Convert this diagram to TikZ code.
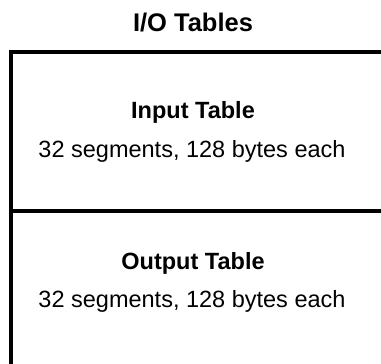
\documentclass[tikz,border=0pt]{standalone}
\usepackage{fontspec}
\setmainfont{Liberation Sans}
\usepackage{tikz}
\tikzstyle{tablebox} = [
    rectangle,
    anchor=north west,
    minimum width=400pt,
    minimum height=158.5pt,
    line width=4pt,
    draw=black
]
\tikzstyle{titletext} = [
    anchor=base,
    inner sep=0pt,
    font=\fontsize{25.5}{30}\selectfont\bfseries
]
\tikzstyle{heading} = [
    anchor=base,
    inner sep=0pt,
    font=\fontsize{23.5}{28}\selectfont\bfseries
]
\tikzstyle{detail} = [
    anchor=base,
    inner sep=0pt,
    font=\fontsize{23.5}{28}\selectfont
]
\begin{document}
\begin{tikzpicture}[x=1pt, y=1pt]

\useasboundingbox (0,0) rectangle (381,-364);
\clip (0,0) rectangle (381,-364);

\node (title) [titletext] at (193,-31) {I/O Tables};

\node (inbox) [tablebox] at (9,-50) {};
\node (outbox) [tablebox, minimum height=220pt] at (9,-208.5) {};

\node (inhead) [heading] at (193,-118) {Input Table};
\node (indetail) [detail] at (192,-157) {32 segments, 128 bytes each};

\node (outhead) [heading] at (193,-269.5) {Output Table};
\node (outdetail) [detail] at (192,-307.5) {32 segments, 128 bytes each};

\end{tikzpicture}
\end{document}
